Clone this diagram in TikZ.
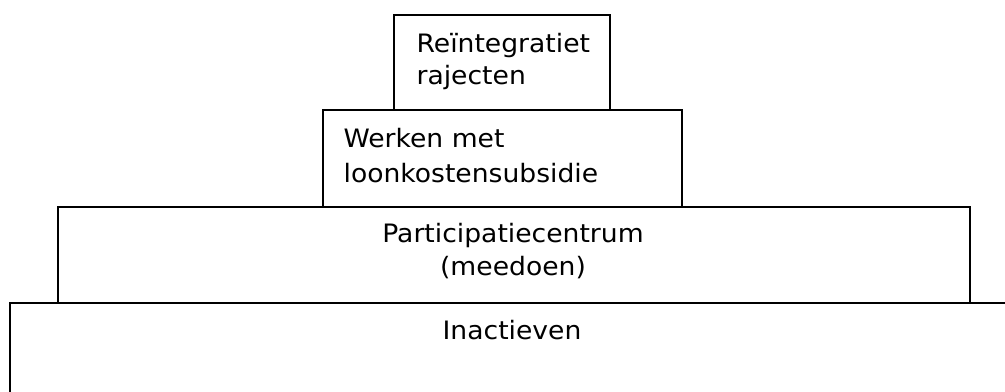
\documentclass[tikz,border=0pt]{standalone}
\usepackage{fontspec}
\setmainfont{DejaVu Sans}[FakeStretch=1.05]

\begin{document}
\begin{tikzpicture}[x=0.75pt,y=-0.75pt,line width=0.9pt,
  lbl/.style={inner sep=0pt,font=\fontsize{19}{24.5}\selectfont}]
\clip (0,0) rectangle (1005,392);

% the four layers, top to bottom
\draw (394,15) rectangle (610,110);
\draw (323,110) rectangle (682,207);
\draw (58,207) rectangle (970,303);
\draw (10,303) rectangle (1020,400);

\node[lbl,align=left,anchor=base west] (reint) at (416,85) {Reïntegratiet\\rajecten};
\node[lbl,align=left,anchor=base west,font=\fontsize{19}{26}\selectfont] (werk) at (343,182) {Werken met\\loonkostensubsidie};
\node[lbl,align=center,anchor=base] (part) at (513,275) {Participatiecentrum\\(meedoen)};
\node[lbl,anchor=base] (inact) at (512,339) {Inactieven};
\end{tikzpicture}
\end{document}
